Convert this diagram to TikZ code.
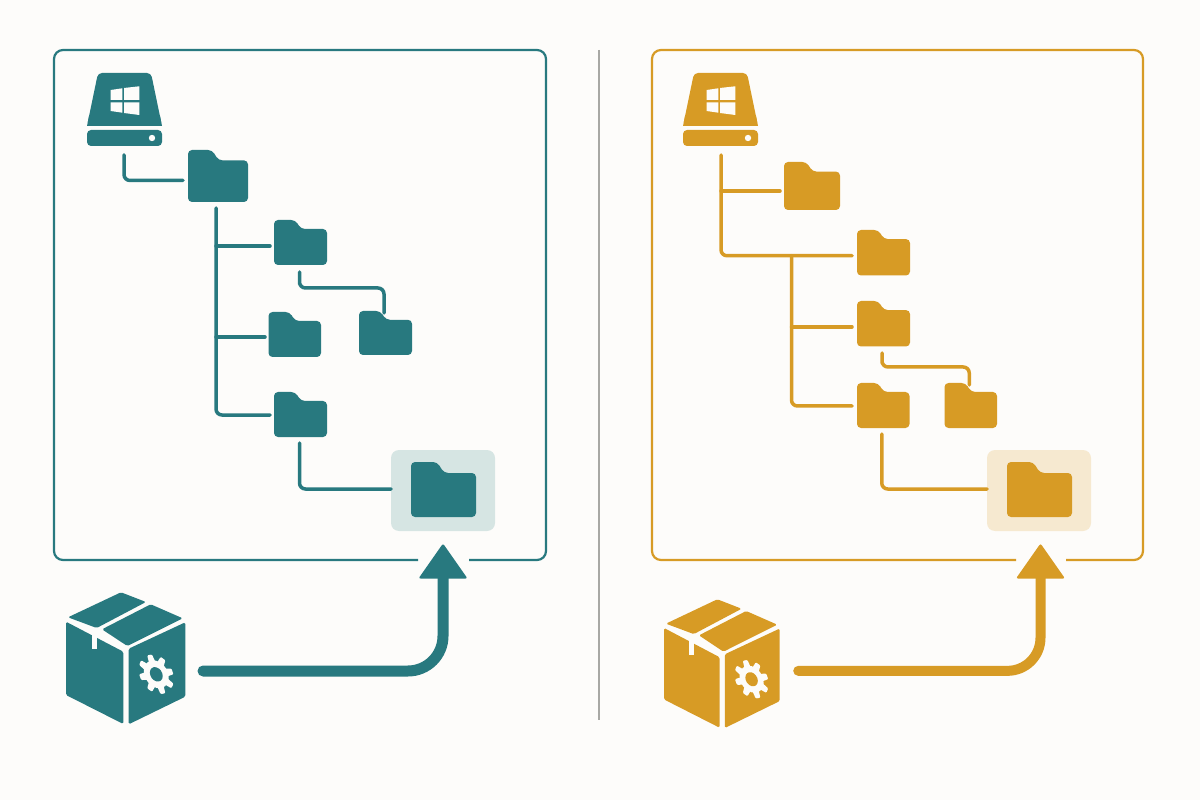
\documentclass[tikz,border=0pt]{standalone}
\definecolor{bgc}{HTML}{FDFCFA}
\definecolor{tealc}{HTML}{28797F}
\definecolor{goldc}{HTML}{D79B25}
\definecolor{tealh}{HTML}{D6E5E3}
\definecolor{goldh}{HTML}{F6E9D0}
\definecolor{sepc}{HTML}{A8A8A4}
\newdimen\pxd \pxd=0.02cm
\tikzset{
  fbox/.style={inner sep=0pt,outer sep=0pt,draw=none,rectangle},
  conn/.style={draw=cur,line width=3.5\pxd,line cap=round,rounded corners=6\pxd},
  frame/.style={draw=cur,line width=2.2\pxd,rounded corners=9\pxd},
  bigarrow/.style={draw=cur,line width=11\pxd,line cap=round,rounded corners=35\pxd},
  arrowhead/.style={fill=cur,rounded corners=2\pxd},
  hilite/.style={fbox,rounded corners=8\pxd,minimum width=104\pxd,minimum height=81\pxd}
}
\newcommand\folder[5]{%
  \pgfmathsetmacro\fw{#4-#2}\pgfmathsetmacro\fh{#5-#3}%
  \pgfmathsetmacro\tx{#2+0.40*\fw}\pgfmathsetmacro\bx{#2+0.51*\fw}%
  \pgfmathsetmacro\bt{#3+0.20*\fh}%
  \node[fbox,minimum width=\fw\pxd,minimum height=\fh\pxd] (#1) at ({(#2+#4)/2},{(#3+#5)/2}) {};
  \fill[cur,rounded corners=4\pxd] (#2,#5) -- (#2,#3) -- (\tx,#3) -- (\bx,\bt) -- (#4,\bt) -- (#4,#5) -- cycle;
}
\newcommand\drive[2]{%
  \begin{scope}[shift={(#2,0)}]
    \node[fbox,minimum width=75\pxd,minimum height=73\pxd] (#1) at (124.5,109.5) {};
    \fill[cur,rounded corners=4\pxd] (87,126) -- (98,73) -- (151,73) -- (162,126) -- cycle;
    \fill[cur] (87,126) -- (92,126) -- (92,118) -- (157,118) -- (157,126) -- (162,126) -- (160,116) -- (89,116) -- cycle;
    \fill[cur,rounded corners=4\pxd] (87,130) rectangle (162,146);
    \fill[bgc] (152,138) circle (3.2);
    \fill[bgc] (110.7,90) -- (122.3,88.3) -- (122.3,100) -- (110.7,100) -- cycle;
    \fill[bgc] (124,88) -- (139.3,86.3) -- (139.3,100) -- (124,100) -- cycle;
    \fill[bgc] (110.7,102.3) -- (122.3,102.3) -- (122.3,112.7) -- (110.7,111) -- cycle;
    \fill[bgc] (124,102.3) -- (139.3,102.3) -- (139.3,115) -- (124,113) -- cycle;
  \end{scope}
}
\newcommand\package[5]{%
  \begin{scope}[shift={(#2,#3)},xscale=#4,yscale=#5,shift={(-66,-592)}]
    \node[fbox,minimum width=119\pxd,minimum height=132\pxd] (#1) at (125.5,658) {};
    \begin{scope}[rounded corners=1.5\pxd]
      \fill[cur] (121,592.3) -- (146,602) -- (96.7,628) -- (68,617.3) -- cycle;
      \fill[cur] (150.7,604.3) -- (182.7,618.3) -- (127.3,646) -- (102,629.3) -- cycle;
      \fill[cur] (66,621.7) -- (123.3,651.7) -- (123.3,724) -- (66,695) -- cycle;
      \fill[cur] (128.7,648.7) -- (185.3,622.3) -- (185.3,696.7) -- (128.7,724.3) -- cycle;
    \end{scope}
    \fill[bgc] (91.7,630) rectangle (96.7,649.3);
    \begin{scope}[shift={(156.3,674.3)},cm={0.92,-0.25,0,1,(0,0)}]
      \fill[bgc] (0,0) circle (13.5);
      \foreach \a in {0,45,...,315}
        \fill[bgc,rotate=\a+22.5,rounded corners=1\pxd] (-3.8,11) -- (-2.8,19) -- (2.8,19) -- (3.8,11) -- cycle;
      \fill[cur] (0,0) circle (7);
    \end{scope}
  \end{scope}
}
\begin{document}
\begin{tikzpicture}[x=0.02cm,y=-0.02cm]
\useasboundingbox (0,0) rectangle (1200,800);
\fill[bgc] (0,0) rectangle (1200,800);
\draw[sepc,line width=2\pxd] (599,50) -- (599,720);

% ---------- left panel
\colorlet{cur}{tealc}
\draw[frame] (418,560) -- (54,560) -- (54,50) -- (546,50) -- (546,560) -- (469,560);
\drive{driveL}{0}
\folder{aA}{188}{150}{248}{202}
\folder{aB}{274}{220}{327}{265}
\folder{aC}{268.5}{312}{321}{357}
\folder{aD}{359}{311}{412}{355}
\folder{aE}{274}{392}{327}{437}
\node[hilite,fill=tealh] (hlL) at (443,490.5) {};
\folder{aF}{411}{462}{476}{517}
\package{pkgL}{66}{592}{1}{1}

\draw[conn,shorten <=9\pxd,shorten >=5\pxd] ([xshift=-0.5\pxd]driveL.south) |- ([yshift=-4.5\pxd]aA.west);
\coordinate (trunkL) at ([xshift=-2\pxd,yshift=-6\pxd]aA.south);
\coordinate (bLB) at ([xshift=-4\pxd,yshift=-3.5\pxd]aB.west);
\coordinate (bLC) at ([xshift=-3.5\pxd,yshift=-2.5\pxd]aC.west);
\coordinate (bLE) at ([xshift=-4\pxd,yshift=-0.5\pxd]aE.west);
\draw[conn] (trunkL) |- (bLE);
\draw[conn] (trunkL |- bLB) -- (bLB);
\draw[conn] (trunkL |- bLC) -- (bLC);
\coordinate (lnk1) at ([xshift=-1\pxd,yshift=-23\pxd]aB.south);
\draw[conn] ([xshift=-1\pxd,yshift=-7\pxd]aB.south) |- (lnk1) -| ([xshift=-1.5\pxd,yshift=-2\pxd]aD.north);
\draw[conn,shorten <=6\pxd] ([xshift=-1\pxd]aE.south) |- ([yshift=1.5\pxd]hlL.west);
\coordinate (tipL) at ([yshift=-12.5\pxd]hlL.south);
\coordinate (neckL) at ([yshift=-30\pxd]tipL);
\draw[bigarrow] ([xshift=18\pxd,yshift=-13\pxd]pkgL.east) -| (neckL);
\fill[arrowhead] (tipL) -- ++(24.5,35) -- ++(-49,0) -- cycle;

% ---------- right panel
\colorlet{cur}{goldc}
\draw[frame] (1016,560) -- (652,560) -- (652,50) -- (1143,50) -- (1143,560) -- (1066,560);
\drive{driveR}{596}
\folder{bA}{784}{162}{840}{210}
\folder{bB}{857}{230}{910}{275.5}
\folder{bC}{857}{301}{910}{346.5}
\folder{bD}{857}{383}{909.5}{428}
\folder{bE}{944.5}{383}{997}{428}
\node[hilite,fill=goldh] (hlR) at (1039,490.5) {};
\folder{bF}{1007}{462}{1072}{517}
\package{pkgR}{664}{599}{0.97}{0.975}

\coordinate (trunkR) at ([xshift=0.5\pxd,yshift=-9\pxd]driveR.south);
\coordinate (bRA) at ([xshift=-4\pxd,yshift=-5\pxd]bA.west);
\coordinate (bRB) at ([xshift=-5\pxd,yshift=-3\pxd]bB.west);
\coordinate (bRC) at ([xshift=-5\pxd,yshift=-3.2\pxd]bC.west);
\coordinate (bRD) at ([xshift=-5\pxd,yshift=-0.5\pxd]bD.west);
\draw[conn] (trunkR) |- (bRB);
\draw[conn] (trunkR |- bRA) -- (bRA);
\coordinate (trunkX) at (791.5,0);
\coordinate (trunkS) at (trunkX |- bRB);
\draw[conn] (trunkS) |- (bRD);
\draw[conn] (trunkS |- bRC) -- (bRC);
\coordinate (lnk2) at ([xshift=-1.5\pxd,yshift=-20.5\pxd]bC.south);
\draw[conn] ([xshift=-1.5\pxd,yshift=-6.5\pxd]bC.south) |- (lnk2) -| ([xshift=-1.5\pxd,yshift=-2\pxd]bE.north);
\draw[conn,shorten <=6\pxd] ([xshift=-1.5\pxd]bD.south) |- ([yshift=1.5\pxd]hlR.west);
\coordinate (tipR) at ([xshift=1.5\pxd,yshift=-12.5\pxd]hlR.south);
\coordinate (neckR) at ([yshift=-30\pxd]tipR);
\draw[bigarrow,line width=10\pxd,rounded corners=33\pxd] ([xshift=17\pxd,yshift=-7.5\pxd]pkgR.east) -| (neckR);
\fill[arrowhead] (tipR) -- ++(24.5,35) -- ++(-49,0) -- cycle;
\end{tikzpicture}
\end{document}
